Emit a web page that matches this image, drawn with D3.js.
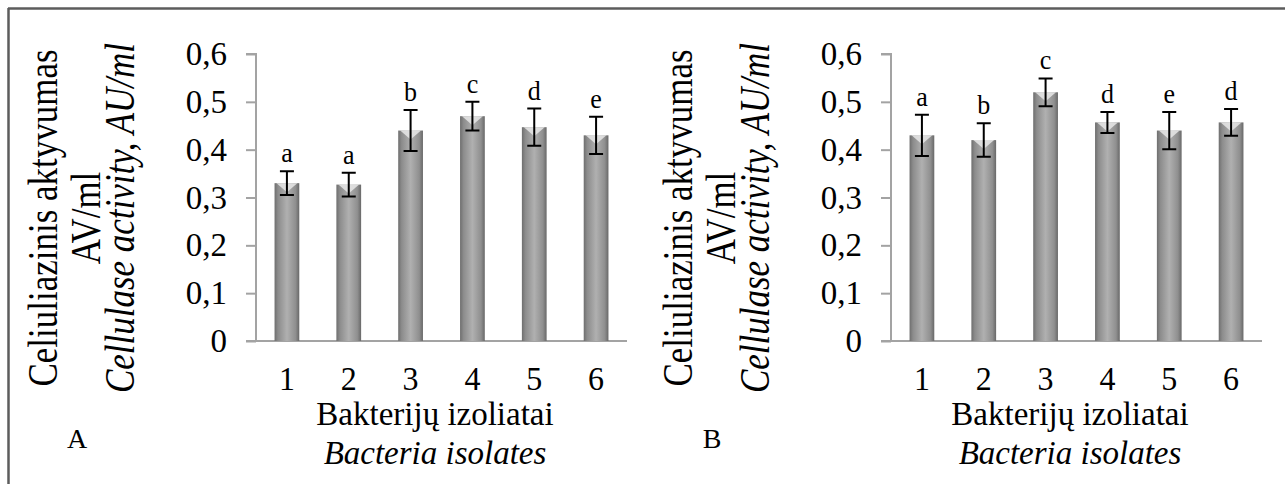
<!DOCTYPE html>
<html>
<head>
<meta charset="utf-8">
<script src="https://cdn.jsdelivr.net/npm/d3@7"></script>
<style>
  body { margin: 0; background: #fff; }
  text { font-family: "Liberation Serif", "Times New Roman", serif; fill: #000; }
</style>
</head>
<body>
<svg id="chart" width="1285" height="484"></svg>
<script>
// data
const isolates = ["1", "2", "3", "4", "5", "6"]
const meanA = [0.33, 0.327, 0.44, 0.47, 0.447, 0.43]
const errA = [0.025, 0.025, 0.043, 0.03, 0.039, 0.039]
const lettersA = ["a", "a", "b", "c", "d", "e"]
const meanB = [0.43, 0.42, 0.52, 0.457, 0.44, 0.457]
const errB = [0.043, 0.035, 0.029, 0.022, 0.039, 0.028]
const lettersB = ["a", "b", "c", "d", "e", "d"]
const yTicks = [0, 0.1, 0.2, 0.3, 0.4, 0.5, 0.6]

const svg = d3.select("#chart")

let defs = svg.append("defs")
let grad = defs.append("linearGradient").attr("id", "barGrad")
  .attr("x1", 0).attr("x2", 1).attr("y1", 0).attr("y2", 0)
grad.selectAll("stop")
  .data([[0, "#6e6e6e"], [0.14, "#8c8c8c"], [0.5, "#b0b0b0"], [0.85, "#8f8f8f"], [1, "#686868"]])
  .enter().append("stop")
  .attr("offset", d => d[0]).attr("stop-color", d => d[1])

// frame
svg.append("line").attr("x1", 8).attr("x2", 1285).attr("y1", 8.5).attr("y2", 8.5)
  .attr("stroke", "#5c5c5c").attr("stroke-width", 2.5)
svg.append("line").attr("x1", 8.5).attr("x2", 8.5).attr("y1", 8).attr("y2", 484)
  .attr("stroke", "#5c5c5c").attr("stroke-width", 2.5)

// text helper; sy stretches glyph height (the figure's text is tall)
function label(g, x, y, str, size, opts = {}) {
  let sy = opts.sy || 1
  let t = g.append("g")
    .attr("transform", `translate(${x},${y}) ${opts.rotate ? "rotate(-90)" : ""} scale(1,${sy})`)
    .append("text")
    .attr("text-anchor", opts.anchor || "middle")
    .attr("font-size", size)
    .text(str)
  if (opts.italic) t.attr("font-style", "italic")
  return t
}

function panel(dx, means, errs, letters, tag) {
  let g = svg.append("g").attr("transform", `translate(${dx},0)`)

  let x = d3.scaleBand().domain(isolates).range([256, 627]).paddingInner(0.6).paddingOuter(0.3)
  let y = d3.scaleLinear().domain([0, 0.6]).range([341, 54])

  // y axis
  let yAxis = g.append("g").attr("transform", "translate(256,0)")
    .call(d3.axisLeft(y).tickValues(yTicks).tickSize(10).tickFormat(d => ""))
  yAxis.selectAll("line, path").attr("stroke", "#a3a3a3").attr("stroke-width", 2)
  yAxis.select(".domain").attr("d", `M-10,${y(0.6)}H0V${y(0)}`)

  yTicks.forEach(v => label(g, 227, y(v) + 11, String(v).replace(".", ","), 33, { anchor: "end", sy: 1.05 }))

  // x axis line
  g.append("line").attr("x1", 246).attr("x2", 627).attr("y1", y(0)).attr("y2", y(0))
    .attr("stroke", "#a3a3a3").attr("stroke-width", 2)

  let bars = g.selectAll(".bar").data(isolates).enter().append("g")
  bars.append("rect")
    .attr("x", d => x(d)).attr("width", x.bandwidth())
    .attr("y", (d, i) => y(means[i])).attr("height", (d, i) => y(0) - y(means[i]))
    .attr("fill", "url(#barGrad)")
  bars.append("path")
    .attr("d", (d, i) => {
      let x0 = x(d), x1 = x(d) + x.bandwidth(), t = y(means[i])
      return `M${x0 + 2},${t}H${x1 - 2}L${(x0 + x1) / 2},${t + 9}Z`
    })
    .attr("fill", "#e8e8e8").attr("opacity", 0.85)

  // error bars
  let cap = 7
  bars.append("path")
    .attr("d", (d, i) => {
      let cx = x(d) + x.bandwidth() / 2
      let top = y(means[i] + errs[i]), bot = y(means[i] - errs[i])
      return `M${cx - cap},${top}H${cx + cap}M${cx},${top}V${bot}M${cx - cap},${bot}H${cx + cap}`
    })
    .attr("stroke", "#000").attr("stroke-width", 2).attr("fill", "none")

  isolates.forEach((d, i) => {
    let cx = x(d) + x.bandwidth() / 2
    label(g, cx, y(means[i] + errs[i]) - 9, letters[i], 26, { sy: 1.05 })
    label(g, cx, 390, d, 32, { sy: 1.05 })
  })

  label(g, 435, 425, "Bakterijų izoliatai", 33)
  label(g, 435, 464, "Bacteria isolates", 33, { italic: true })
  label(g, 77, 448, tag, 28)

  label(g, 57, 218, "Celiuliazinis aktyvumas", 35, { rotate: true, sy: 1.18 })
  label(g, 100, 218, "AV/ml", 35, { rotate: true, sy: 1.18 })
  label(g, 134, 218, "Cellulase activity, AU/ml", 35, { rotate: true, italic: true, sy: 1.18 })
}

panel(0, meanA, errA, lettersA, "A")
panel(635, meanB, errB, lettersB, "B")
</script>
</body>
</html>
